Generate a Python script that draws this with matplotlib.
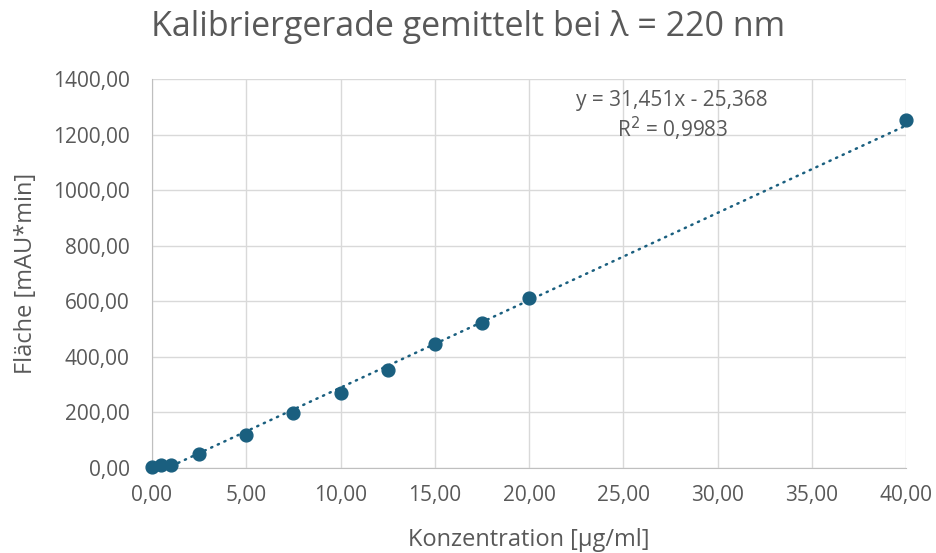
import numpy as np
import matplotlib.pyplot as plt
from matplotlib.ticker import FuncFormatter

# Messwerte (gemittelt)
konz = [0.0, 0.5, 1.0, 2.5, 5.0, 7.5, 10.0, 12.5, 15.0, 17.5, 20.0, 40.0]
flaeche = [3, 12, 12, 50, 120, 197, 271, 352, 446, 522, 612, 1252]

# Lineare Regression (Trendlinie)
steigung = 31.451
achsenabschnitt = -25.368
r2 = 0.9983

farbe = '#1a5f7f'
grau = '#595959'

plt.rcParams['font.family'] = ['Open Sans', 'DejaVu Sans']

fig = plt.figure(figsize=(9.37, 5.53), dpi=100)
ax = fig.add_axes([0.1622, 0.1537, 0.8048, 0.7034])

x_fit = np.array([min(konz), max(konz)])
ax.plot(x_fit, steigung * x_fit + achsenabschnitt, color=farbe, lw=1.8,
        linestyle=(0, (0.5, 2.4)), dash_capstyle='round', zorder=2)
ax.scatter(konz, flaeche, s=85, color=farbe, zorder=3, clip_on=False)

ax.set_xlim(0, 40)
ax.set_ylim(0, 1400)
ax.set_xticks(np.arange(0, 41, 5))
ax.set_yticks(np.arange(0, 1401, 200))
komma = FuncFormatter(lambda v, p: f'{v:.2f}'.replace('.', ','))
ax.xaxis.set_major_formatter(komma)
ax.yaxis.set_major_formatter(komma)

ax.grid(True, color='#d9d9d9', lw=1)
ax.set_axisbelow(True)
for s in ['top', 'right']:
    ax.spines[s].set_visible(False)
for s in ['left', 'bottom']:
    ax.spines[s].set_color('#bfbfbf')
ax.tick_params(length=0, labelsize=15, colors=grau)
ax.tick_params(axis='y', pad=16)
ax.tick_params(axis='x', pad=12)

ax.set_xlabel('Konzentration [µg/ml]', fontsize=17, color=grau, labelpad=16)
ax.set_ylabel('Fläche [mAU*min]', fontsize=17, color=grau, labelpad=11)
fig.suptitle('Kalibriergerade gemittelt bei λ = 220 nm', fontsize=24.5,
             color=grau, x=0.5, y=0.982)

gl = f'y = {steigung:.3f}x - {abs(achsenabschnitt):.3f}'.replace('.', ',')
ax.text(0.69, 0.903, gl + '\n' + f'R$^2$ = {r2:.4f}'.replace('.', ','),
        transform=ax.transAxes, ha='center', va='center', fontsize=15,
        color=grau, linespacing=1.15)

fig.savefig('out.png', dpi=100)
